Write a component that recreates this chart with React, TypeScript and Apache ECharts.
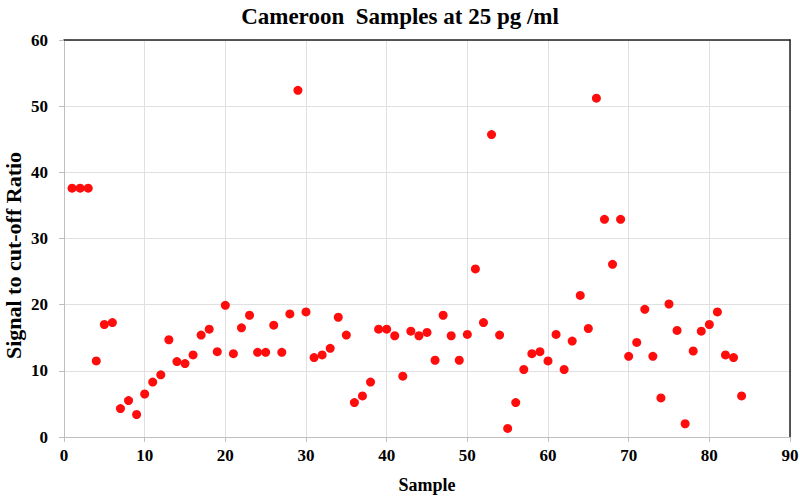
import React, { useEffect, useRef } from "react";
import * as echarts from "echarts";

const samples: number[] = Array.from({ length: 84 }, (_, i) => i + 1);
const ratios: number[] = [
  37.6, 37.6, 37.6, 11.5, 17.0, 17.3, 4.3, 5.5, 3.4, 6.5,
  8.3, 9.4, 14.7, 11.4, 11.1, 12.4, 15.4, 16.3, 12.9, 19.9,
  12.6, 16.5, 18.4, 12.8, 12.8, 16.9, 12.8, 18.6, 52.4, 18.9,
  12.0, 12.4, 13.4, 18.1, 15.4, 5.2, 6.2, 8.3, 16.3, 16.3,
  15.3, 9.2, 16.0, 15.3, 15.8, 11.6, 18.4, 15.3, 11.6, 15.5,
  25.4, 17.3, 45.7, 15.4, 1.3, 5.2, 10.2, 12.6, 12.9, 11.5,
  15.5, 10.2, 14.5, 21.4, 16.4, 51.2, 32.9, 26.1, 32.9, 12.2,
  14.3, 19.3, 12.2, 5.9, 20.1, 16.1, 2.0, 13.0, 16.0, 17.0,
  18.9, 12.4, 12.0, 6.2,
];

const titleText = "Cameroon  Samples at 25 pg /ml";
const xName = "Sample";
const yName = "Signal to cut-off Ratio";

export default function App() {
  const ref = useRef<HTMLDivElement>(null);
  useEffect(() => {
    document.body.style.margin = "0";
    if (!ref.current) return;
    const chart = echarts.init(ref.current, null, { renderer: "svg" });
    const font = "'Liberation Serif', 'Times New Roman', serif";
    chart.setOption({
      animation: false,
      backgroundColor: "#fff",
      textStyle: { fontFamily: font },
      title: {
        text: titleText,
        left: "center",
        top: 0,
        textStyle: { fontFamily: font, fontWeight: "bold", fontSize: 23, color: "#000" },
      },
      grid: {
        left: 64,
        right: 10,
        top: 40,
        bottom: 59,
        containLabel: false,
        outerBoundsMode: "none",
      },
      xAxis: [
        {
          type: "value",
          position: "bottom",
          min: 0,
          max: 90,
          interval: 10,
          name: xName,
          nameLocation: "middle",
          nameGap: 39,
          nameTextStyle: { fontFamily: font, fontWeight: "bold", fontSize: 18, color: "#000" },
          axisLine: { show: true, onZero: false, lineStyle: { color: "#bfbfbf", width: 1 } },
          axisTick: { show: true, length: 5, lineStyle: { color: "#bfbfbf" } },
          axisLabel: { fontFamily: font, fontWeight: "bold", fontSize: 17, color: "#000", margin: 10 },
          splitLine: { show: true, lineStyle: { color: "#e0e0e0", width: 1 } },
        },
        {
          type: "value",
          position: "top",
          min: 0,
          max: 90,
          interval: 10,
          axisLine: { show: true, onZero: false, lineStyle: { color: "#222", width: 1.5 } },
          axisTick: { show: false },
          axisLabel: { show: false },
          splitLine: { show: false },
        },
      ],
      yAxis: [
        {
          type: "value",
          position: "left",
          min: 0,
          max: 60,
          interval: 10,
          name: yName,
          nameLocation: "middle",
          nameGap: 40,
          nameMoveOverlap: false,
          nameTextStyle: {
            fontFamily: font,
            fontWeight: "bold",
            fontSize: 22,
            lineHeight: 22,
            color: "#000",
            padding: [0, 34, 0, 0],
          },
          axisLine: { show: true, onZero: false, lineStyle: { color: "#bfbfbf", width: 1 } },
          axisTick: { show: true, length: 5, lineStyle: { color: "#bfbfbf" } },
          axisLabel: { fontFamily: font, fontWeight: "bold", fontSize: 17, color: "#000", margin: 16 },
          splitLine: { show: true, lineStyle: { color: "#e0e0e0", width: 1 } },
        },
        {
          type: "value",
          position: "right",
          min: 0,
          max: 60,
          interval: 10,
          axisLine: { show: true, onZero: false, lineStyle: { color: "#222", width: 1.5 } },
          axisTick: { show: false },
          axisLabel: { show: false },
          splitLine: { show: false },
        },
      ],
      series: [
        {
          type: "scatter",
          xAxisIndex: 0,
          yAxisIndex: 0,
          symbol: "circle",
          symbolSize: 9,
          itemStyle: { color: "#ff0d0d", opacity: 1 },
          data: samples.map((s, i) => [s, ratios[i]]),
        },
      ],
    });
    return () => chart.dispose();
  }, []);
  return <div ref={ref} style={{ width: 800, height: 496 }} />;
}
